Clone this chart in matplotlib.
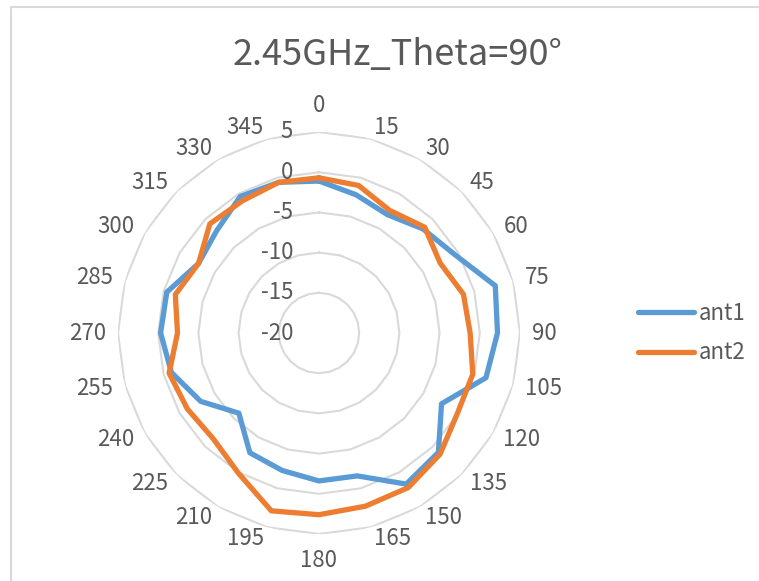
import numpy as np
import matplotlib
matplotlib.use("Agg")
import matplotlib.pyplot as plt
from matplotlib.lines import Line2D
from matplotlib.patches import Rectangle
from matplotlib.transforms import offset_copy

plt.rcParams['font.family'] = ['Noto Sans CJK SC', 'DejaVu Sans']
plt.rcParams['font.weight'] = 'light'

title = "2.45GHz_Theta=90°"
angles_deg = [0, 15, 30, 45, 60, 75, 90, 105, 120, 135, 150, 165,
              180, 195, 210, 225, 240, 255, 270, 285, 300, 315, 330, 345]
ant1 = [-1.1, -2.2, -3.0, -1.7, -0.5, 2.7, 2.2, 1.5, -2.4, 1.0, 1.7, -1.6,
        -1.6, -2.3, -2.8, -5.9, -3.0, -1.0, -0.3, -0.4, -2.7, -2.0, -0.4, -0.6]
ant2 = [-0.7, -1.0, -2.4, -1.4, -2.6, -1.4, -1.2, -0.2, -0.1, 1.3, 2.2, 2.3,
        2.6, 2.9, 0.1, -1.4, -1.1, -0.7, -2.4, -1.5, -2.7, -0.8, -1.0, -0.6]
series_names = ["ant1", "ant2"]
r_ticks = [-20, -15, -10, -5, 0, 5]

W, H, DPI = 759, 581, 100
fig = plt.figure(figsize=(W / DPI, H / DPI), dpi=DPI)
fig.patch.set_facecolor('white')

# chart border
fig.add_artist(Rectangle((11 / W, -0.05), 1.2, 1 - 7 / H + 0.05, transform=fig.transFigure,
                         fill=False, edgecolor='#d9d9d9', linewidth=1.5))

cx, cy, R = 319, 333, 201
ax = fig.add_axes([(cx - R) / W, (H - cy - R) / H, 2 * R / W, 2 * R / H], projection='polar')
ax.set_theta_zero_location('N')
ax.set_theta_direction(-1)
ax.set_ylim(r_ticks[0], r_ticks[-1])
ax.grid(False)
ax.spines['polar'].set_visible(False)
ax.set_xticks([])
ax.set_yticks([])
ax.patch.set_alpha(0)

theta = np.deg2rad(angles_deg + [angles_deg[0]])
# polygon gridlines
for rv in r_ticks[1:]:
    ax.plot(theta, [rv] * len(theta), color='#d9d9d9', linewidth=1.5, zorder=1)

colors = ['#5B9BD5', '#ED7D31']
for vals, col, name in zip([ant1, ant2], colors, series_names):
    ax.plot(theta, vals + [vals[0]], color=col, linewidth=3.8, solid_joinstyle='round',
            solid_capstyle='round', zorder=3, label=name)

txtcol = '#595959'
span = r_ticks[-1] - r_ticks[0]
r_side = r_ticks[0] + (213 / R) * span
r_pole = r_ticks[0] + (216 / R) * span
for a in angles_deg:
    s = np.sin(np.deg2rad(a))
    if abs(s) < 1e-6:
        va = 'bottom' if a == 0 else 'top'
        ax.text(np.deg2rad(a), r_pole, str(a), ha='center', va=va, fontsize=16,
                color=txtcol, clip_on=False)
    else:
        ha = 'left' if s > 0 else 'right'
        ax.text(np.deg2rad(a), r_side, str(a), ha=ha, va='center', fontsize=16,
                color=txtcol, clip_on=False)

toff = offset_copy(ax.transData, fig=fig, x=-26, y=0, units='dots')
for rv in r_ticks:
    ax.text(0, rv, str(rv), transform=toff, ha='right', va='center', fontsize=16,
            color=txtcol, clip_on=False)

fig.text(233 / W, 1 - 65 / H, title, ha='left', va='baseline', fontsize=26, color=txtcol)

handles = [Line2D([], [], color=c, linewidth=3.8, solid_capstyle='round') for c in colors]
leg = fig.legend(handles, series_names, loc='center left', bbox_to_anchor=(618 / W, 1 - 333 / H),
                 frameon=False, fontsize=16, handlelength=2.5, handletextpad=0.25,
                 labelspacing=0.75, labelcolor=txtcol)

fig.savefig('out.png', dpi=DPI, facecolor='white')
